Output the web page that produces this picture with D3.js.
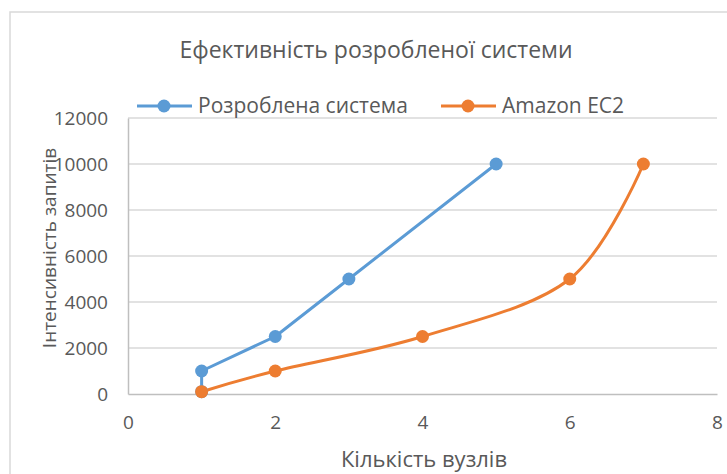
<!DOCTYPE html>
<html><head><meta charset="utf-8">
<script src="https://cdn.jsdelivr.net/npm/d3@7"></script>
<style>body{margin:0;background:#fff}svg{display:block}text{font-family:"Open Sans",sans-serif;fill:#595959}</style>
</head><body>
<svg id="c" width="727" height="474"></svg>
<script>
const titleText = "Ефективність розробленої системи";
const xTitle = "Кількість вузлів";
const yTitle = "Інтенсивність запитів";
const seriesNames = ["Розроблена система", "Amazon EC2"];
const seriesColors = ["#5B9BD5", "#ED7D31"];
const blueX = [1, 1, 2, 3, 5];
const blueY = [100, 1000, 2500, 5000, 10000];
const orangeX = [1, 2, 4, 6, 7];
const orangeY = [100, 1000, 2500, 5000, 10000];
const xTicks = [0, 2, 4, 6, 8];
const yTicks = [0, 2000, 4000, 6000, 8000, 10000, 12000];

const svg = d3.select("#c");
// outer chart border
svg.append("rect").attr("x",10).attr("y",12).attr("width",740).attr("height",480)
  .attr("fill","none").attr("stroke","#d9d9d9").attr("stroke-width",1.5);

const x = d3.scaleLinear().domain([0,8]).range([128,717]);
const y = d3.scaleLinear().domain([0,12000]).range([394,118]);

// gridlines
svg.append("g").selectAll("line").data(yTicks.filter(d=>d>0)).join("line")
  .attr("x1",x(0)).attr("x2",x(8)).attr("y1",d=>y(d)).attr("y2",d=>y(d))
  .attr("stroke","#d9d9d9").attr("stroke-width",1.5);

// axes
const ya = svg.append("g").attr("transform",`translate(${x(0)},0)`)
  .call(d3.axisLeft(y).tickValues(yTicks).tickSize(0).tickPadding(20).tickFormat(d3.format("d")));
ya.select(".domain").attr("stroke","#bfbfbf").attr("stroke-width",1.5);
const xa = svg.append("g").attr("transform",`translate(0,${y(0)})`)
  .call(d3.axisBottom(x).tickValues(xTicks).tickSize(0).tickPadding(22).tickFormat(d3.format("d")));
xa.select(".domain").attr("stroke","#bfbfbf").attr("stroke-width",1.5);
svg.selectAll(".tick text").attr("font-size",19).style("fill","#595959")
  .style("font-family",'"Open Sans",sans-serif');

// titles
svg.append("text").attr("x",376).attr("y",58).attr("text-anchor","middle").attr("font-size",23).text(titleText);
svg.append("text").attr("x",424).attr("y",467).attr("text-anchor","middle").attr("font-size",22).text(xTitle);
svg.append("text").attr("transform","translate(56,248) rotate(-90)").attr("text-anchor","middle").attr("font-size",19).text(yTitle);

// series
const data = [
  {name:seriesNames[0], color:seriesColors[0], pts: blueX.map((v,i)=>[v,blueY[i]]), curve:d3.curveLinear},
  {name:seriesNames[1], color:seriesColors[1], pts: orangeX.map((v,i)=>[v,orangeY[i]]), curve:d3.curveCardinal.tension(0)}
];
data.forEach(s=>{
  const line = d3.line().x(d=>x(d[0])).y(d=>y(d[1])).curve(s.curve);
  svg.append("path").attr("d",line(s.pts)).attr("fill","none").attr("stroke",s.color).attr("stroke-width",3).attr("stroke-linejoin","round");
});
data.forEach(s=>{
  svg.append("g").selectAll("circle").data(s.pts).join("circle")
    .attr("cx",d=>x(d[0])).attr("cy",d=>y(d[1])).attr("r",6.5).attr("fill",s.color);
});

// legend
const legX = [137, 441];
data.forEach((s,i)=>{
  const g = svg.append("g").attr("transform",`translate(${legX[i]},106)`);
  g.append("line").attr("x1",0).attr("x2",55).attr("stroke",s.color).attr("stroke-width",3);
  g.append("circle").attr("cx",27).attr("r",6.5).attr("fill",s.color);
  g.append("text").attr("x",61).attr("y",7).attr("font-size",21).text(s.name);
});
</script>
</body></html>
